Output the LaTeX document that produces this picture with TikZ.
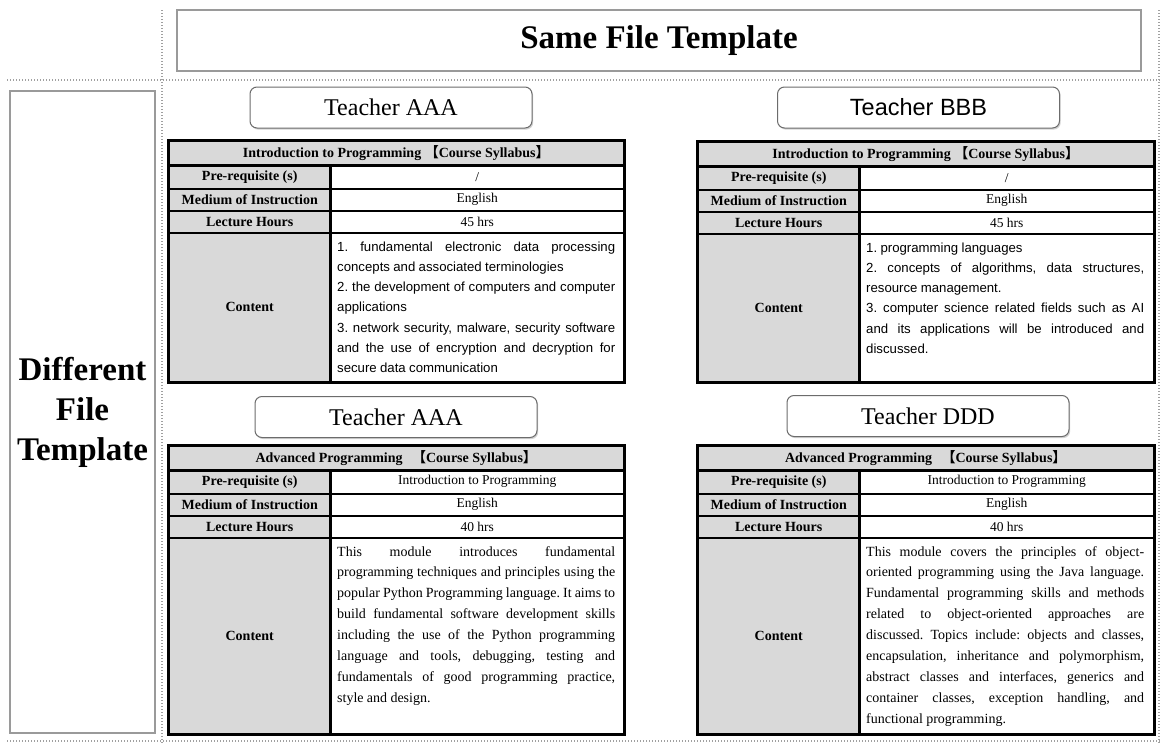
\documentclass[tikz,border=0pt]{standalone}
\usepackage{fontspec}
\setmainfont{Liberation Serif}
\newfontfamily\arial{Liberation Sans}
\newfontfamily\cjk{Noto Sans CJK SC}
\usetikzlibrary{shadows}
\definecolor{labelgray}{HTML}{D9D9D9}
\definecolor{boxgray}{HTML}{9A9A9A}
\definecolor{dotgray}{HTML}{A0A0A0}

\newcommand\jl[1]{\makebox[278pt][s]{\frenchspacing\spaceskip=0pt\xspaceskip=0pt #1}}
\newcommand\sanscontent{\arial\fontsize{13.2}{20.3}\selectfont\frenchspacing}
\newcommand\serifcontent{\fontsize{14}{20.9}\selectfont\frenchspacing}

\tikzset{
  tframe/.style={draw=black, line width=3pt},
  cellg/.style={draw=black, line width=1.5pt, fill=labelgray, anchor=north west, inner sep=0pt,
                font=\fontsize{14}{16}\selectfont\bfseries},
  cellw/.style={draw=black, line width=1.5pt, fill=white, anchor=north west, inner sep=0pt,
                font=\fontsize{13.5}{16}\selectfont},
  teacher/.style={draw=gray!85!black, line width=1pt, rounded corners=7pt, fill=white,
                  minimum width=282pt, minimum height=41pt, inner sep=0pt,
                  drop shadow={shadow xshift=1.2pt, shadow yshift=-1.6pt, opacity=0.35},
                  font=\fontsize{24}{28}\selectfont},
  headbox/.style={draw=boxgray, line width=1.5pt, fill=white, inner sep=0pt},
  sepline/.style={draw=dotgray, line width=1.3pt, dash pattern=on 1.4pt off 1.6pt},
}

\newcommand\syl[9]{%
\begin{scope}[shift={(#2,#3)}]
\node[cellg, minimum width=#4, minimum height=24] (#1-t) at (0,0) {#6};
\node[cellg, minimum width=162, minimum height=24] (#1-pl) at (0,24) {Pre-requisite (s)};
\node[cellw, minimum width=#4-162, minimum height=24] (#1-pv) at (162,24) {#7};
\node[cellg, minimum width=162, minimum height=22] (#1-ml) at (0,48) {Medium of Instruction};
\node[cellw, minimum width=#4-162, minimum height=22] (#1-mv) at (162,48) {English};
\node[cellg, minimum width=162, minimum height=22] (#1-ll) at (0,70) {Lecture Hours};
\node[cellw, minimum width=#4-162, minimum height=22] (#1-lv) at (162,70) {#8};
\node[cellg, minimum width=162, minimum height=#5-92] (#1-cl) at (0,92) {Content};
\node[cellw, minimum width=#4-162, minimum height=#5-92] (#1-cv) at (162,92) {};
\node[anchor=base west, inner sep=0pt, text width=278pt, align=left] (#1-ct) at (169,111) {#9\par};
\draw[tframe] (#1-t.north west) rectangle (#1-cv.south east);
\draw[tframe] (#1-t.south west) -- (#1-t.south east);
\draw[tframe] (#1-pv.north west) -- (#1-cv.south west);
\end{scope}}

\newcommand\ttl[2]{#1#2{\cjk 【}Course Syllabus{\cjk 】}}

\begin{document}
\begin{tikzpicture}[x=1pt, y=-1pt]
\useasboundingbox[fill=white] (0,0) rectangle (1163,744);

% dotted separators
\coordinate (h1a) at (7,80);    \coordinate (h1b) at (1160,80);
\coordinate (h2a) at (7,741);   \coordinate (h2b) at (1160,741);
\coordinate (v1a) at (162,10);  \coordinate (v1b) at (162,744);
\coordinate (v2a) at (1159,10); \coordinate (v2b) at (1159,744);
\draw[sepline] (h1a) -- (h1b);
\draw[sepline] (h2a) -- (h2b);
\draw[sepline] (v1a) -- (v1b);
\draw[sepline] (v2a) -- (v2b);

% header boxes
\node[headbox, minimum width=964, minimum height=61,
      font=\fontsize{33}{38}\selectfont\bfseries] (same) at (659,40.5) {Same File Template};
\node[headbox, minimum width=145, minimum height=642, align=center,
      font=\fontsize{33}{40}\selectfont\bfseries] (diff) at (82.5,412) {Different\\File\\Template};

% teacher boxes
\node[teacher] (tA1) at (391,107.5) {Teacher AAA};
\node[teacher, font=\arial\fontsize{23.5}{28}\selectfont] (tB) at (918.5,107.5) {Teacher BBB};
\node[teacher] (tA2) at (396,417) {Teacher AAA};
\node[teacher] (tD) at (928,416) {Teacher DDD};

% tables
\syl{A}{168}{140}{455}{241}{\ttl{Introduction to Programming}{\ }}{/}{45 hrs}{\sanscontent
\jl{1. fundamental electronic data processing}\\
concepts and associated terminologies\\
\jl{2. the development of computers and computer}\\
applications\\
\jl{3. network security, malware, security software}\\
\jl{and the use of encryption and decryption for}\\
secure data communication}

\syl{B}{697}{141}{456}{240}{\ttl{Introduction to Programming}{\ }}{/}{45 hrs}{\sanscontent
1. programming languages\\
\jl{2. concepts of algorithms, data structures,}\\
resource management.\\
\jl{3. computer science related fields such as AI}\\
\jl{and its applications will be introduced and}\\
discussed.}

\syl{C}{168}{445}{455}{288}{\ttl{Advanced Programming}{\ \hspace{6pt}}}{Introduction to Programming}{40 hrs}{\serifcontent
\jl{This module introduces fundamental}\\
\jl{programming techniques and principles using the}\\
\jl{popular Python Programming language. It aims to}\\
\jl{build fundamental software development skills}\\
\jl{including the use of the Python programming}\\
\jl{language and tools, debugging, testing and}\\
\jl{fundamentals of good programming practice,}\\
style and design.}

\syl{D}{697}{445}{456}{288}{\ttl{Advanced Programming}{\ \hspace{6pt}}}{Introduction to Programming}{40 hrs}{\serifcontent
\jl{This module covers the principles of object-}\\
\jl{oriented programming using the Java language.}\\
\jl{Fundamental programming skills and methods}\\
\jl{related to object-oriented approaches are}\\
\jl{discussed. Topics include: objects and classes,}\\
\jl{encapsulation, inheritance and polymorphism,}\\
\jl{abstract classes and interfaces, generics and}\\
\jl{container classes, exception handling, and}\\
functional programming.}
\end{tikzpicture}
\end{document}
